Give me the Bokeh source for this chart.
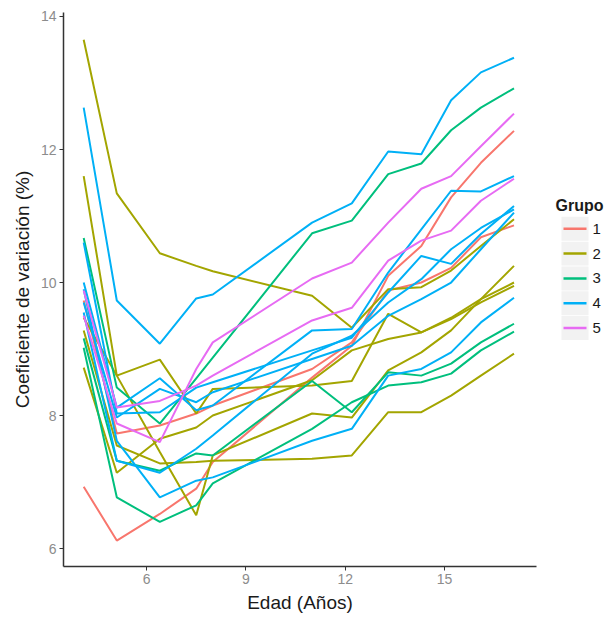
from bokeh.plotting import figure
from bokeh.models import Range1d, FixedTicker
from bokeh.layouts import row
from bokeh.embed import file_html
from bokeh.resources import INLINE
from bokeh.core.properties import value

# Edad (años) at which each curve is evaluated
edad = [4.1, 5.1, 6.4, 7.5, 8.0, 11.0, 12.2, 13.3, 14.3, 15.2, 16.1, 17.1]

# Coeficiente de variación (%) per curve, grouped by "Grupo"
grupo_1 = [
    [6.93, 6.12, 6.52, 6.90, 7.30, 8.57, 9.05, 10.10, 10.55, 11.28, 11.80, 12.28],
    [9.73, 7.73, 7.85, 8.03, 8.15, 8.70, 9.10, 9.88, 10.00, 10.22, 10.68, 10.86],
]
grupo_2 = [
    [13.65, 11.34, 10.44, 10.25, 10.17, 9.80, 9.32, 9.90, 9.93, 10.18, 10.55, 10.95],
    [11.60, 8.60, 8.84, 8.03, 8.40, 8.45, 8.52, 9.53, 9.25, 9.47, 9.75, 10.00],
    [9.47, 8.60, 7.45, 6.50, 7.40, 8.03, 7.97, 8.68, 8.95, 9.28, 9.75, 10.25],
    [8.72, 7.14, 7.65, 7.82, 8.00, 8.53, 8.98, 9.15, 9.25, 9.45, 9.70, 9.95],
    [9.28, 7.55, 7.28, 7.30, 7.32, 7.35, 7.40, 8.05, 8.05, 8.30, 8.60, 8.93],
]
grupo_3 = [
    [10.67, 8.42, 7.88, 8.56, 8.87, 10.74, 10.93, 11.63, 11.79, 12.29, 12.63, 12.92],
    [9.16, 7.32, 7.17, 7.43, 7.40, 8.52, 8.05, 8.65, 8.60, 8.78, 9.10, 9.38],
    [9.02, 6.77, 6.40, 6.65, 6.98, 7.80, 8.20, 8.45, 8.50, 8.63, 8.98, 9.26],
]
grupo_4 = [
    [12.63, 9.73, 9.08, 9.76, 9.82, 10.90, 11.19, 11.97, 11.93, 12.74, 13.16, 13.38],
    [10.00, 8.12, 8.56, 8.08, 8.15, 9.28, 9.30, 10.15, 10.80, 11.38, 11.37, 11.60],
    [10.60, 8.03, 8.05, 8.42, 8.50, 8.98, 9.17, 9.85, 10.40, 10.28, 10.73, 11.15],
    [9.55, 7.32, 7.14, 7.50, 7.70, 8.93, 9.20, 9.70, 10.05, 10.50, 10.82, 11.10],
    [9.90, 7.62, 6.77, 7.02, 7.07, 7.62, 7.80, 8.60, 8.70, 8.95, 9.40, 9.77],
    [9.70, 7.97, 8.40, 8.20, 8.35, 8.85, 9.05, 9.50, 9.75, 10.00, 10.50, 11.05],
]
grupo_5 = [
    [9.50, 7.88, 7.60, 8.70, 9.10, 10.06, 10.30, 10.90, 11.41, 11.60, 12.05, 12.54],
    [9.88, 8.12, 8.22, 8.45, 8.60, 9.43, 9.62, 10.33, 10.63, 10.78, 11.23, 11.56],
]

grupos = ["1", "2", "3", "4", "5"]
colores = ["#F8766D", "#A3A500", "#00BF7D", "#00B0F6", "#E76BF3"]
series = [grupo_1, grupo_2, grupo_3, grupo_4, grupo_5]

x_ticks = [6, 9, 12, 15]
y_ticks = [6, 8, 10, 12, 14]

FONT = "Liberation Sans"

p = figure(width=545, height=625,
           x_range=Range1d(3.49, 17.78), y_range=Range1d(5.73, 14.06),
           min_border_left=63, min_border_right=9, min_border_top=12, min_border_bottom=59,
           toolbar_location=None, output_backend="svg")
p.xgrid.visible = False
p.ygrid.visible = False
p.outline_line_color = None
p.background_fill_color = "white"

for grp, col in zip(series, colores):
    for ys in grp:
        p.line(edad, ys, line_color=col, line_width=2)

p.xaxis.ticker = FixedTicker(ticks=x_ticks)
p.yaxis.ticker = FixedTicker(ticks=y_ticks)
p.xaxis.axis_label = "Edad (Años)"
p.yaxis.axis_label = "Coeficiente de variación (%)"
for ax in (p.xaxis, p.yaxis):
    ax.axis_line_color = "#333333"
    ax.axis_line_width = 1.5
    ax.major_tick_line_color = "#333333"
    ax.major_tick_out = 4
    ax.major_tick_in = 0
    ax.minor_tick_line_color = None
    ax.major_label_text_font = FONT
    ax.major_label_text_font_size = "14px"
    ax.major_label_text_color = "#8C8C8C"
    ax.major_label_standoff = 3
    ax.axis_label_text_font = FONT
    ax.axis_label_text_font_size = "19px"
    ax.axis_label_text_font_style = "normal"
    ax.axis_label_text_color = "#1A1A1A"
    ax.axis_label_standoff = 5

# Legend panel
lg = figure(width=64, height=625, x_range=Range1d(0, 64), y_range=Range1d(625, 0),
            x_axis_location=None, y_axis_location=None, min_border=0,
            toolbar_location=None, output_backend="svg")
lg.xgrid.visible = False
lg.ygrid.visible = False
lg.outline_line_color = None

row_y = [244 + 28 * i for i in range(len(grupos))]
lg.rect(x=[29.5] * len(grupos), y=row_y, width=27, height=27,
        fill_color="#F2F2F2", line_color=None)
lg.segment(x0=[18] * len(grupos), y0=row_y, x1=[41] * len(grupos), y1=row_y,
           line_color=colores, line_width=2.5)
lg.text(x=[47] * len(grupos), y=row_y, text=grupos, text_font=value(FONT),
        text_font_size="15px", text_baseline="middle", text_align="left",
        text_color="#1A1A1A")
lg.text(x=[10], y=[218], text=["Grupo"], text_font=value(FONT), text_font_size="16px",
        text_font_style="bold", text_baseline="middle", text_align="left",
        text_color="#1A1A1A")

layout = row(p, lg)
open("out.html", "w").write(file_html(layout, INLINE))
